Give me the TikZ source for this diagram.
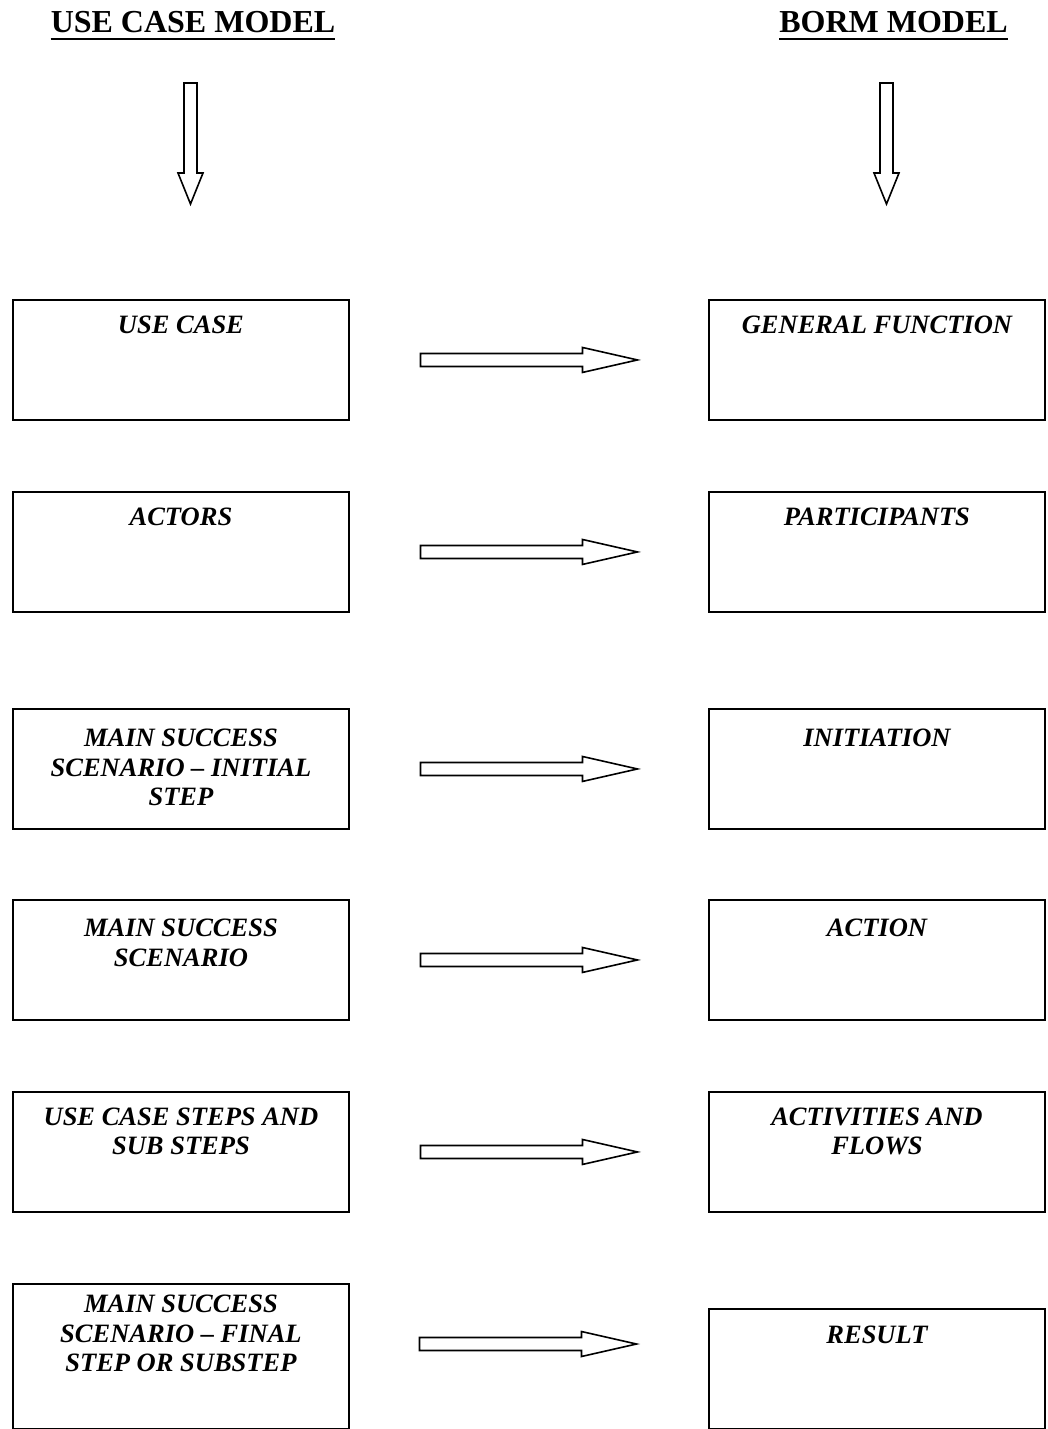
\documentclass[tikz,border=0pt]{standalone}
\usepackage{fontspec}
\setmainfont{Liberation Serif}
\usetikzlibrary{calc}

% horizontal block arrow centred on a coordinate
\newcommand\hblock[1]{\draw[blockarrow] ($(#1)+(-108.5,-6.5)$) -- ++(162,0) -- ++(0,-6)
  -- ($(#1)+(108.5,0)$) -- ($(#1)+(53.5,12.5)$) -- ++(0,-6) -- ($(#1)+(-108.5,6.5)$) -- cycle;}
% vertical block arrow hanging from a coordinate (top of the shaft)
\newcommand\vblock[1]{\draw[blockarrow] ($(#1)+(-6.5,0)$) -- ++(0,90) -- ++(-6,0)
  -- ($(#1)+(0,121)$) -- ($(#1)+(12.5,90)$) -- ++(-6,0) -- ($(#1)+(6.5,0)$) -- cycle;}

\begin{document}
\begin{tikzpicture}[x=1pt,y=-1pt,
  box/.style={draw, line width=1.9pt, minimum width=336pt, minimum height=120pt,
    inner sep=0pt, anchor=north west},
  boxtext/.style={font=\fontsize{26.5}{29.5}\selectfont\bfseries\itshape,
    align=center, inner sep=0pt, anchor=north},
  heading/.style={font=\fontsize{32}{38}\selectfont\bfseries, inner sep=0pt, anchor=base},
  blockarrow/.style={draw, line width=1.6pt, fill=white, line join=miter},
]
\useasboundingbox (0,0) rectangle (1048,1429);

% column headings
\node[heading] (tl) at (193,33) {USE CASE MODEL};
\node[heading] (tr) at (893.5,33) {BORM MODEL};
\draw[line width=2.8pt] ([yshift=-6pt]tl.base west) -- ([yshift=-6pt]tl.base east);
\draw[line width=2.8pt] ([yshift=-6pt]tr.base west) -- ([yshift=-6pt]tr.base east);

\coordinate (dl) at (190.5,83);
\coordinate (dr) at (886.5,83);
\vblock{dl}
\vblock{dr}

% use case side
\node[box] (u1) at (12,299) {};
\node[box] (u2) at (12,491) {};
\node[box] (u3) at (12,708) {};
\node[box] (u4) at (12,899) {};
\node[box] (u5) at (12,1091) {};
\node[box, minimum height=145pt] (u6) at (12,1283) {};

% BORM side
\node[box] (b1) at (708,299) {};
\node[box] (b2) at (708,491) {};
\node[box] (b3) at (708,708) {};
\node[box] (b4) at (708,899) {};
\node[box] (b5) at (708,1091) {};
\node[box] (b6) at (708,1308) {};

% labels
\node[boxtext] (tu1) at ($(u1.north)+(0,16.8)$) {USE CASE};
\node[boxtext] (tu2) at ($(u2.north)+(0,16.3)$) {ACTORS};
\node[boxtext] (tu3) at ($(u3.north)+(0,20.8)$) {MAIN SUCCESS\\SCENARIO -- INITIAL\\STEP};
\node[boxtext] (tu4) at ($(u4.north)+(0,19.8)$) {MAIN SUCCESS\\SCENARIO};
\node[boxtext] (tu5) at ($(u5.north)+(0,16.3)$) {USE CASE STEPS AND\\SUB STEPS};
\node[boxtext] (tu6) at ($(u6.north)+(0,11.8)$) {MAIN SUCCESS\\SCENARIO -- FINAL\\STEP OR SUBSTEP};

\node[boxtext] (tb1) at ($(b1.north)+(0,16.8)$) {GENERAL FUNCTION};
\node[boxtext] (tb2) at ($(b2.north)+(0,16.3)$) {PARTICIPANTS};
\node[boxtext] (tb3) at ($(b3.north)+(0,20.8)$) {INITIATION};
\node[boxtext] (tb4) at ($(b4.north)+(0,19.8)$) {ACTION};
\node[boxtext] (tb5) at ($(b5.north)+(0,16.3)$) {ACTIVITIES AND\\FLOWS};
\node[boxtext] (tb6) at ($(b6.north)+(0,17.5)$) {RESULT};

% mapping arrows
\coordinate (a1) at ($(u1.east)!0.5!(b1.west)$);
\coordinate (a2) at ($(u2.east)!0.5!(b2.west)$);
\coordinate (a3) at ($(u3.east)!0.5!(b3.west)$);
\coordinate (a4) at ($(u4.east)!0.5!(b4.west)$);
\coordinate (a5) at ($(u5.east)!0.5!(b5.west)$);
\coordinate (a6) at (528,1344);
\foreach \a in {a1,a2,a3,a4,a5,a6} {\hblock{\a}}
\end{tikzpicture}
\end{document}
